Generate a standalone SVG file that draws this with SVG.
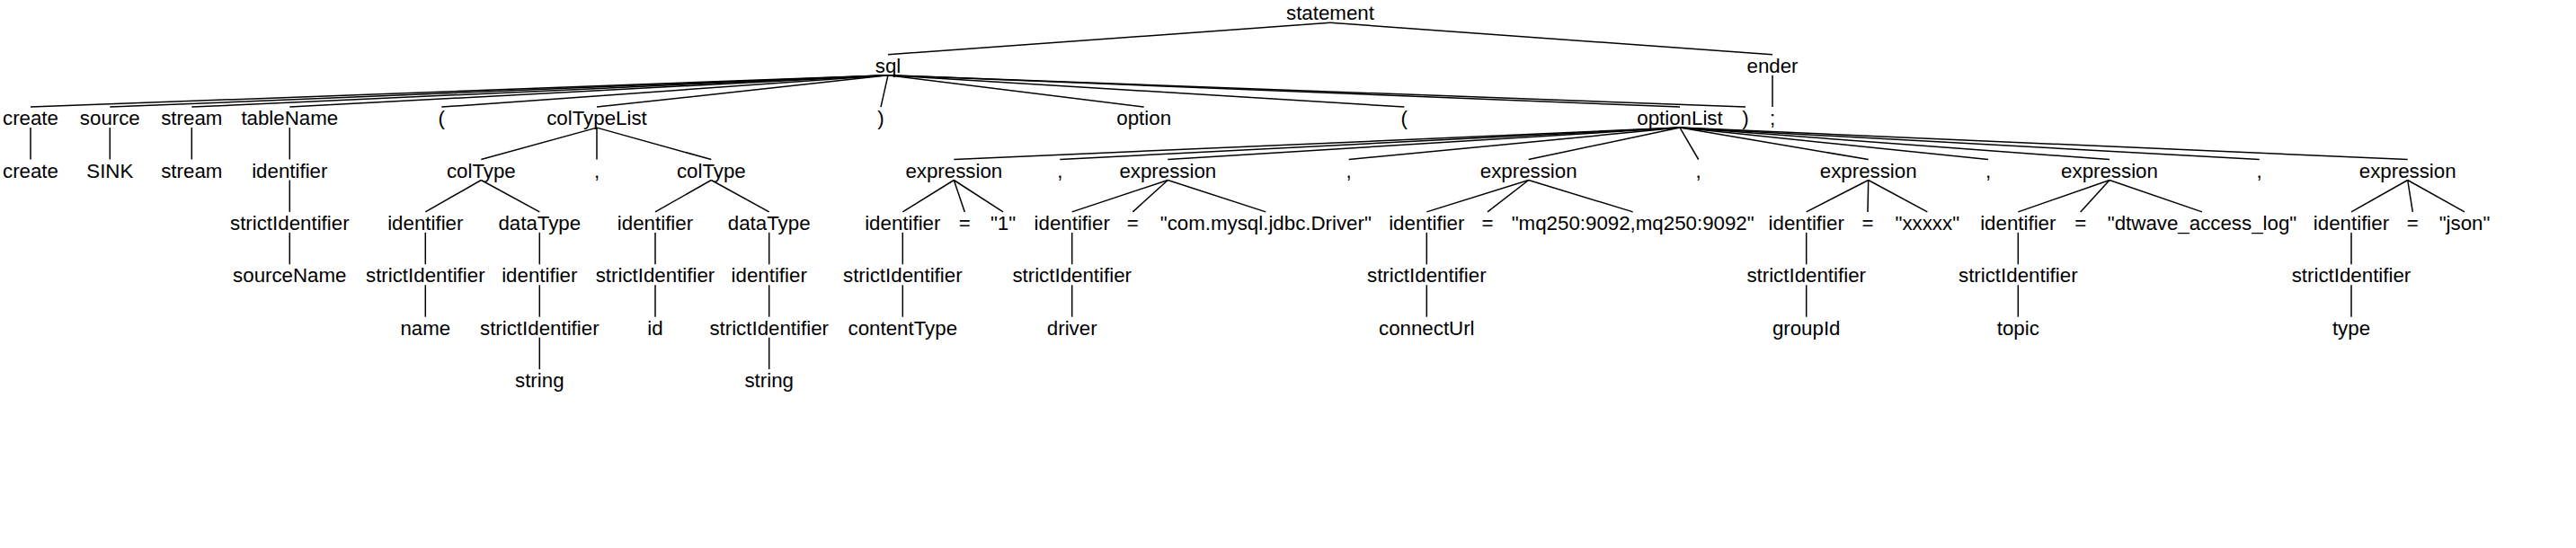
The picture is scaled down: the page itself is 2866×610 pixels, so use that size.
<svg xmlns="http://www.w3.org/2000/svg" width="2866" height="610" viewBox="0 0 2866 610">
<style>
text{font-family:"Liberation Sans",Arial,Helvetica,sans-serif;font-size:22.3px;text-anchor:middle;fill:#000}
#edges line{stroke:#000;stroke-width:1.5;stroke-linecap:butt}
</style>
<rect width="2866" height="610" fill="#fff"/>
<g id="edges">
<line x1="1480" y1="25.3" x2="988" y2="60.7"/>
<line x1="1480" y1="25.3" x2="1972" y2="60.7"/>
<line x1="988" y1="83.7" x2="34" y2="119.1"/>
<line x1="988" y1="83.7" x2="122.3" y2="119.1"/>
<line x1="988" y1="83.7" x2="213.3" y2="119.1"/>
<line x1="988" y1="83.7" x2="322.3" y2="119.1"/>
<line x1="988" y1="83.7" x2="491.3" y2="119.1"/>
<line x1="988" y1="83.7" x2="664" y2="119.1"/>
<line x1="988" y1="83.7" x2="980" y2="119.1"/>
<line x1="988" y1="83.7" x2="1272.7" y2="119.1"/>
<line x1="988" y1="83.7" x2="1562.3" y2="119.1"/>
<line x1="988" y1="83.7" x2="1869" y2="119.1"/>
<line x1="988" y1="83.7" x2="1942" y2="119.1"/>
<line x1="1972" y1="83.7" x2="1972" y2="119.1"/>
<line x1="34" y1="142.1" x2="34" y2="177.5"/>
<line x1="122.3" y1="142.1" x2="122.3" y2="177.5"/>
<line x1="213.3" y1="142.1" x2="213.3" y2="177.5"/>
<line x1="322.3" y1="142.1" x2="322.3" y2="177.5"/>
<line x1="664" y1="142.1" x2="535.3" y2="177.5"/>
<line x1="664" y1="142.1" x2="664" y2="177.5"/>
<line x1="664" y1="142.1" x2="791.3" y2="177.5"/>
<line x1="1869" y1="142.1" x2="1061.3" y2="177.5"/>
<line x1="1869" y1="142.1" x2="1179.3" y2="177.5"/>
<line x1="1869" y1="142.1" x2="1299.3" y2="177.5"/>
<line x1="1869" y1="142.1" x2="1500.7" y2="177.5"/>
<line x1="1869" y1="142.1" x2="1700.7" y2="177.5"/>
<line x1="1869" y1="142.1" x2="1889.7" y2="177.5"/>
<line x1="1869" y1="142.1" x2="2078.7" y2="177.5"/>
<line x1="1869" y1="142.1" x2="2212" y2="177.5"/>
<line x1="1869" y1="142.1" x2="2347" y2="177.5"/>
<line x1="1869" y1="142.1" x2="2513.7" y2="177.5"/>
<line x1="1869" y1="142.1" x2="2678.7" y2="177.5"/>
<line x1="322.3" y1="200.5" x2="322.3" y2="235.9"/>
<line x1="535.3" y1="200.5" x2="473.3" y2="235.9"/>
<line x1="535.3" y1="200.5" x2="600.3" y2="235.9"/>
<line x1="791.3" y1="200.5" x2="729" y2="235.9"/>
<line x1="791.3" y1="200.5" x2="855.7" y2="235.9"/>
<line x1="1061.3" y1="200.5" x2="1004.3" y2="235.9"/>
<line x1="1061.3" y1="200.5" x2="1073.3" y2="235.9"/>
<line x1="1061.3" y1="200.5" x2="1116" y2="235.9"/>
<line x1="1299.3" y1="200.5" x2="1192.7" y2="235.9"/>
<line x1="1299.3" y1="200.5" x2="1260.3" y2="235.9"/>
<line x1="1299.3" y1="200.5" x2="1408.3" y2="235.9"/>
<line x1="1700.7" y1="200.5" x2="1587.3" y2="235.9"/>
<line x1="1700.7" y1="200.5" x2="1655" y2="235.9"/>
<line x1="1700.7" y1="200.5" x2="1816.7" y2="235.9"/>
<line x1="2078.7" y1="200.5" x2="2009.7" y2="235.9"/>
<line x1="2078.7" y1="200.5" x2="2078" y2="235.9"/>
<line x1="2078.7" y1="200.5" x2="2144.3" y2="235.9"/>
<line x1="2347" y1="200.5" x2="2245.3" y2="235.9"/>
<line x1="2347" y1="200.5" x2="2314.7" y2="235.9"/>
<line x1="2347" y1="200.5" x2="2450" y2="235.9"/>
<line x1="2678.7" y1="200.5" x2="2616" y2="235.9"/>
<line x1="2678.7" y1="200.5" x2="2684.3" y2="235.9"/>
<line x1="2678.7" y1="200.5" x2="2742" y2="235.9"/>
<line x1="322.3" y1="258.9" x2="322.3" y2="294.3"/>
<line x1="473.3" y1="258.9" x2="473.3" y2="294.3"/>
<line x1="600.3" y1="258.9" x2="600.3" y2="294.3"/>
<line x1="729" y1="258.9" x2="729" y2="294.3"/>
<line x1="855.7" y1="258.9" x2="855.7" y2="294.3"/>
<line x1="1004.3" y1="258.9" x2="1004.3" y2="294.3"/>
<line x1="1192.7" y1="258.9" x2="1192.7" y2="294.3"/>
<line x1="1587.3" y1="258.9" x2="1587.3" y2="294.3"/>
<line x1="2009.7" y1="258.9" x2="2009.7" y2="294.3"/>
<line x1="2245.3" y1="258.9" x2="2245.3" y2="294.3"/>
<line x1="2616" y1="258.9" x2="2616" y2="294.3"/>
<line x1="473.3" y1="317.3" x2="473.3" y2="352.7"/>
<line x1="600.3" y1="317.3" x2="600.3" y2="352.7"/>
<line x1="729" y1="317.3" x2="729" y2="352.7"/>
<line x1="855.7" y1="317.3" x2="855.7" y2="352.7"/>
<line x1="1004.3" y1="317.3" x2="1004.3" y2="352.7"/>
<line x1="1192.7" y1="317.3" x2="1192.7" y2="352.7"/>
<line x1="1587.3" y1="317.3" x2="1587.3" y2="352.7"/>
<line x1="2009.7" y1="317.3" x2="2009.7" y2="352.7"/>
<line x1="2245.3" y1="317.3" x2="2245.3" y2="352.7"/>
<line x1="2616" y1="317.3" x2="2616" y2="352.7"/>
<line x1="600.3" y1="375.7" x2="600.3" y2="411.1"/>
<line x1="855.7" y1="375.7" x2="855.7" y2="411.1"/>
</g>
<g id="n-statement"><text x="1480" y="22.3">statement</text></g>
<g id="n-sql"><text x="988" y="80.7">sql</text></g>
<g id="n-ender"><text x="1972" y="80.7">ender</text></g>
<g id="n-create"><text x="34" y="139.1">create</text></g>
<g id="n-source"><text x="122.3" y="139.1">source</text></g>
<g id="n-stream"><text x="213.3" y="139.1">stream</text></g>
<g id="n-tableName"><text x="322.3" y="139.1">tableName</text></g>
<g id="n-lparen1"><text x="491.3" y="139.1">(</text></g>
<g id="n-colTypeList"><text x="664" y="139.1">colTypeList</text></g>
<g id="n-rparen1"><text x="980" y="139.1">)</text></g>
<g id="n-option"><text x="1272.7" y="139.1">option</text></g>
<g id="n-lparen2"><text x="1562.3" y="139.1">(</text></g>
<g id="n-optionList"><text x="1869" y="139.1">optionList</text></g>
<g id="n-rparen2"><text x="1942" y="139.1">)</text></g>
<g id="n-semicolon"><text x="1972" y="139.1">;</text></g>
<g id="n-create-t"><text x="34" y="197.5">create</text></g>
<g id="n-sink"><text x="122.3" y="197.5">SINK</text></g>
<g id="n-stream-t"><text x="213.3" y="197.5">stream</text></g>
<g id="n-tn-identifier"><text x="322.3" y="197.5">identifier</text></g>
<g id="n-colType1"><text x="535.3" y="197.5">colType</text></g>
<g id="n-ct-comma"><text x="664" y="197.5">,</text></g>
<g id="n-colType2"><text x="791.3" y="197.5">colType</text></g>
<g id="n-expr1"><text x="1061.3" y="197.5">expression</text></g>
<g id="n-comma1"><text x="1179.3" y="197.5">,</text></g>
<g id="n-expr2"><text x="1299.3" y="197.5">expression</text></g>
<g id="n-comma2"><text x="1500.7" y="197.5">,</text></g>
<g id="n-expr3"><text x="1700.7" y="197.5">expression</text></g>
<g id="n-comma3"><text x="1889.7" y="197.5">,</text></g>
<g id="n-expr4"><text x="2078.7" y="197.5">expression</text></g>
<g id="n-comma4"><text x="2212" y="197.5">,</text></g>
<g id="n-expr5"><text x="2347" y="197.5">expression</text></g>
<g id="n-comma5"><text x="2513.7" y="197.5">,</text></g>
<g id="n-expr6"><text x="2678.7" y="197.5">expression</text></g>
<g id="n-tn-strictId"><text x="322.3" y="255.9">strictIdentifier</text></g>
<g id="n-ct1-identifier"><text x="473.3" y="255.9">identifier</text></g>
<g id="n-ct1-dataType"><text x="600.3" y="255.9">dataType</text></g>
<g id="n-ct2-identifier"><text x="729" y="255.9">identifier</text></g>
<g id="n-ct2-dataType"><text x="855.7" y="255.9">dataType</text></g>
<g id="n-e1-identifier"><text x="1004.3" y="255.9">identifier</text></g>
<g id="n-e1-eq"><text x="1073.3" y="255.9">=</text></g>
<g id="n-e1-value"><text x="1116" y="255.9">"1"</text></g>
<g id="n-e2-identifier"><text x="1192.7" y="255.9">identifier</text></g>
<g id="n-e2-eq"><text x="1260.3" y="255.9">=</text></g>
<g id="n-e2-value"><text x="1408.3" y="255.9">"com.mysql.jdbc.Driver"</text></g>
<g id="n-e3-identifier"><text x="1587.3" y="255.9">identifier</text></g>
<g id="n-e3-eq"><text x="1655" y="255.9">=</text></g>
<g id="n-e3-value"><text x="1816.7" y="255.9">"mq250:9092,mq250:9092"</text></g>
<g id="n-e4-identifier"><text x="2009.7" y="255.9">identifier</text></g>
<g id="n-e4-eq"><text x="2078" y="255.9">=</text></g>
<g id="n-e4-value"><text x="2144.3" y="255.9">"xxxxx"</text></g>
<g id="n-e5-identifier"><text x="2245.3" y="255.9">identifier</text></g>
<g id="n-e5-eq"><text x="2314.7" y="255.9">=</text></g>
<g id="n-e5-value"><text x="2450" y="255.9">"dtwave_access_log"</text></g>
<g id="n-e6-identifier"><text x="2616" y="255.9">identifier</text></g>
<g id="n-e6-eq"><text x="2684.3" y="255.9">=</text></g>
<g id="n-e6-value"><text x="2742" y="255.9">"json"</text></g>
<g id="n-sourceName"><text x="322.3" y="314.3">sourceName</text></g>
<g id="n-ct1-strictId"><text x="473.3" y="314.3">strictIdentifier</text></g>
<g id="n-dt1-identifier"><text x="600.3" y="314.3">identifier</text></g>
<g id="n-ct2-strictId"><text x="729" y="314.3">strictIdentifier</text></g>
<g id="n-dt2-identifier"><text x="855.7" y="314.3">identifier</text></g>
<g id="n-e1-strictId"><text x="1004.3" y="314.3">strictIdentifier</text></g>
<g id="n-e2-strictId"><text x="1192.7" y="314.3">strictIdentifier</text></g>
<g id="n-e3-strictId"><text x="1587.3" y="314.3">strictIdentifier</text></g>
<g id="n-e4-strictId"><text x="2009.7" y="314.3">strictIdentifier</text></g>
<g id="n-e5-strictId"><text x="2245.3" y="314.3">strictIdentifier</text></g>
<g id="n-e6-strictId"><text x="2616" y="314.3">strictIdentifier</text></g>
<g id="n-name"><text x="473.3" y="372.7">name</text></g>
<g id="n-dt1-strictId"><text x="600.3" y="372.7">strictIdentifier</text></g>
<g id="n-id"><text x="729" y="372.7">id</text></g>
<g id="n-dt2-strictId"><text x="855.7" y="372.7">strictIdentifier</text></g>
<g id="n-contentType"><text x="1004.3" y="372.7">contentType</text></g>
<g id="n-driver"><text x="1192.7" y="372.7">driver</text></g>
<g id="n-connectUrl"><text x="1587.3" y="372.7">connectUrl</text></g>
<g id="n-groupId"><text x="2009.7" y="372.7">groupId</text></g>
<g id="n-topic"><text x="2245.3" y="372.7">topic</text></g>
<g id="n-type"><text x="2616" y="372.7">type</text></g>
<g id="n-string1"><text x="600.3" y="431.1">string</text></g>
<g id="n-string2"><text x="855.7" y="431.1">string</text></g>
</svg>
